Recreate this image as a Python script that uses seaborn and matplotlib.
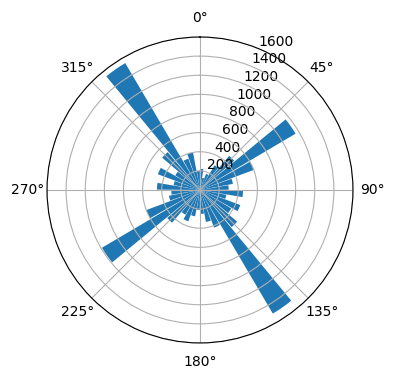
import numpy as np
import pandas as pd
import matplotlib
matplotlib.use("Agg")
import matplotlib.pyplot as plt
import seaborn as sns

# bin centres in degrees (clockwise from north) and counts
direction_deg = [5, 15, 25, 35, 45, 55, 65, 75, 85,
                 95, 105, 115, 125, 135, 145, 155, 165, 175,
                 185, 195, 205, 215, 225, 235, 245, 255, 265,
                 275, 285, 295, 305, 315, 325, 335, 345, 355]
counts = [220, 130, 180, 300, 470, 1160, 600, 350, 300,
          450, 280, 450, 380, 510, 1500, 420, 340, 250,
          210, 280, 350, 300, 450, 1190, 600, 330, 300,
          450, 280, 470, 300, 520, 1540, 350, 400, 200]
r_ticks = [200, 400, 600, 800, 1000, 1200, 1400, 1600]
theta_tick_labels = ["0°", "45°", "90°", "135°", "180°", "225°", "270°", "315°"]

df = pd.DataFrame({"theta": np.deg2rad(direction_deg), "count": counts})

fig = plt.figure(figsize=(3.96, 3.80), dpi=100)
ax = fig.add_axes([0.1187, 0.0974, 0.7727, 0.8053], projection="polar")
ax.set_theta_zero_location("N")
ax.set_theta_direction(-1)

sns.barplot(data=df, x="theta", y="count", native_scale=True, width=0.9,
            color=sns.color_palette()[0], saturation=1, errorbar=None, ax=ax)

ax.set_xlabel("")
ax.set_ylabel("")
ax.set_xticks(np.deg2rad(np.arange(0, 360, 45)))
ax.set_xticklabels(theta_tick_labels)
ax.set_yticks(r_ticks)
ax.set_yticklabels([str(t) for t in r_ticks])
ax.set_ylim(0, 1600)
ax.set_rlabel_position(22.5)
ax.grid(True, color="#b0b0b0", linewidth=0.8)
ax.set_axisbelow("line")

fig.savefig("out.png", dpi=100)
